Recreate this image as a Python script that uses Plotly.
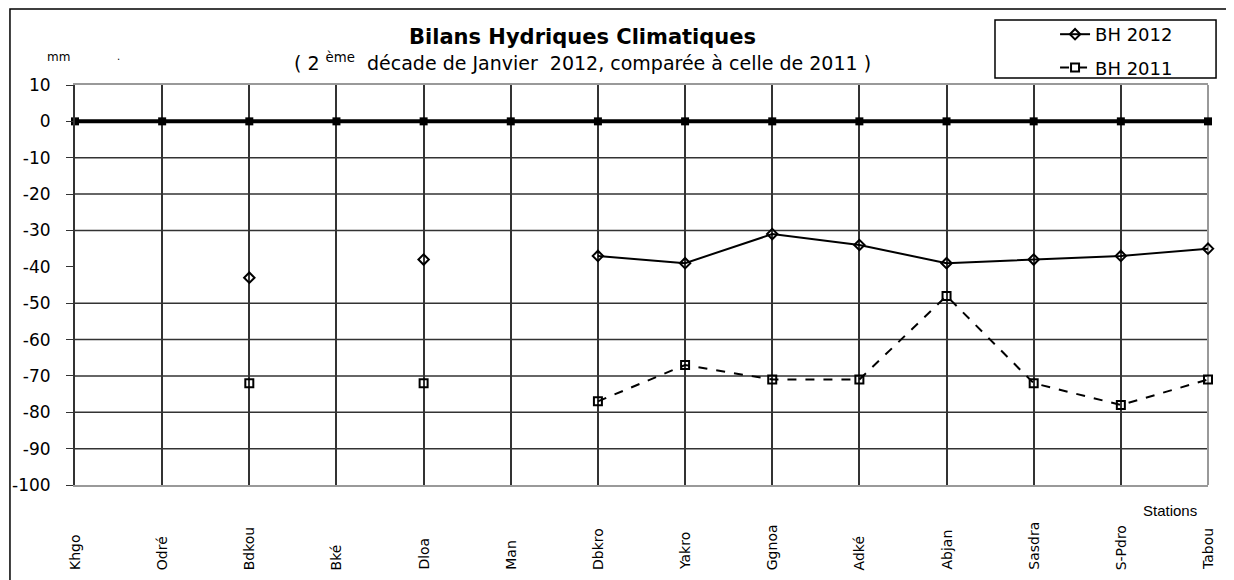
import plotly.graph_objects as go

stations = ["Khgo", "Odré", "Bdkou", "Bké", "Dloa", "Man", "Dbkro", "Yakro",
            "Ggnoa", "Adké", "Abjan", "Sasdra", "S-Pdro", "Tabou"]
bh_2012 = [None, None, -43, None, -38, None, -37, -39, -31, -34, -39, -38, -37, -35]
bh_2011 = [None, None, -72, None, -72, None, -77, -67, -71, -71, -48, -72, -78, -71]
zero_ref = [0] * len(stations)
y_ticks = [10, 0, -10, -20, -30, -40, -50, -60, -70, -80, -90, -100]
y_tick_text = ["10", "0", "-10", "-20", "-30", "-40", "-50", "-60", "-70", "-80", "-90", "-100"]
grid_y = [-10, -20, -30, -50, -60, -70, -80, -90]

FONT = "DejaVu Sans, Liberation Sans, Arial, sans-serif"

fig = go.Figure()
fig.add_trace(go.Scatter(
    x=stations, y=zero_ref, mode="lines+markers", showlegend=False,
    line=dict(color="black", width=4),
    marker=dict(symbol="square", size=8, color="black"),
    cliponaxis=False,
))
fig.add_trace(go.Scatter(
    x=stations, y=bh_2012, mode="lines+markers", name="BH 2012", legendgroup="a",
    line=dict(color="black", width=2),
    marker=dict(symbol="diamond-open", size=8, color="black", line=dict(width=2)),
    connectgaps=False, cliponaxis=False,
))
fig.add_trace(go.Scatter(
    x=stations, y=bh_2011, mode="lines+markers", name="BH 2011", legendgroup="b",
    line=dict(color="black", width=2, dash="dash"),
    marker=dict(symbol="square-open", size=8, color="black", line=dict(width=2)),
    connectgaps=False, cliponaxis=False,
))

shapes = []
for gy in grid_y:
    shapes.append(dict(type="line", xref="paper", yref="y", x0=0, x1=1, y0=gy, y1=gy,
                       line=dict(color="#333333", width=1.5), layer="below"))
# right edge of plot area
shapes.append(dict(type="line", xref="paper", yref="paper", x0=1, x1=1, y0=0, y1=1,
                   line=dict(color="#999999", width=2), layer="below"))
# outer frame
shapes.append(dict(type="rect", xref="paper", yref="paper",
                   x0=-0.0574, x1=1.0177, y0=-0.26, y1=1.19,
                   line=dict(color="black", width=1.5)))
# legend frame
shapes.append(dict(type="rect", xref="paper", yref="paper",
                   x0=0.812, x1=1.0071, y0=1.0175, y1=1.1625,
                   line=dict(color="black", width=1.5), fillcolor="white", layer="below"))

annotations = [
    dict(text="<b>Bilans Hydriques Climatiques</b>", xref="paper", yref="paper",
         x=0.4475, y=1.12, xanchor="center", yanchor="middle", showarrow=False,
         font=dict(size=21, family=FONT, color="black")),
    dict(text="( 2 <sup>ème</sup>  décade de Janvier  2012, comparée à celle de 2011 )",
         xref="paper", yref="paper", x=0.4475, y=1.0575, xanchor="center", yanchor="middle",
         showarrow=False, font=dict(size=19, family=FONT, color="black")),
    dict(text="mm", xref="paper", yref="paper", x=-0.015, y=1.07, xanchor="center",
         yanchor="middle", showarrow=False, font=dict(size=12, family=FONT, color="black")),
    dict(text=".", xref="paper", yref="paper", x=0.0388, y=1.07, xanchor="center",
         yanchor="middle", showarrow=False, font=dict(size=10, family=FONT, color="black")),
    dict(text="Stations", xref="paper", yref="paper", x=0.9665, y=-0.0625, xanchor="center",
         yanchor="middle", showarrow=False,
         font=dict(size=15, family="Liberation Sans Narrow, Arial Narrow, sans-serif", color="black")),
]
for s in stations:
    annotations.append(dict(text=s, xref="x", yref="paper", x=s, y=-0.2175,
                            yanchor="bottom", xanchor="center", textangle=-90,
                            showarrow=False, font=dict(size=14, family=FONT, color="black")))

fig.update_layout(
    width=1226, height=572,
    margin=dict(l=67, r=26, t=77, b=95, autoexpand=False),
    paper_bgcolor="white", plot_bgcolor="white",
    font=dict(family=FONT, color="black"),
    shapes=shapes, annotations=annotations,
    legend=dict(x=0.865, y=1.1725, xanchor="left", yanchor="top",
                borderwidth=0, bgcolor="rgba(0,0,0,0)",
                font=dict(size=18, family=FONT, color="black"),
                tracegroupgap=7),
    xaxis=dict(type="category", range=[0, 13], showgrid=True, gridcolor="#333333",
               gridwidth=1.5, showticklabels=False, showline=True, linecolor="#999999",
               linewidth=2, mirror=True, zeroline=False, ticks=""),
    yaxis=dict(range=[-100, 10], tickvals=y_ticks, ticktext=y_tick_text, showgrid=False,
               zeroline=False, showline=True, linecolor="#333333", linewidth=2,
               ticks="outside", ticklen=7, tickcolor="#333333", ticklabelstandoff=12,
               tickfont=dict(size=17, family=FONT, color="black")),
)

fig.write_html("out.html")
